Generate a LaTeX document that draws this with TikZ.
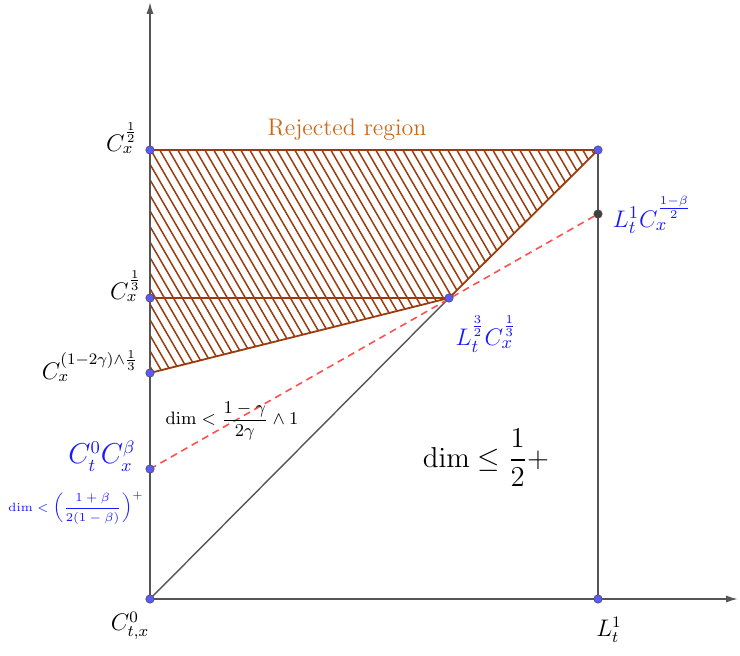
\documentclass[tikz,border=0pt]{standalone}
\usepackage{amsmath,amssymb}
\usepackage{xcolor}
\usepackage{tikz}
\usetikzlibrary{arrows.meta, positioning}

\definecolor{axisgray}{RGB}{85,85,85}
\definecolor{rejbrown}{RGB}{155,60,15}
\definecolor{rejorange}{RGB}{205,105,20}
\definecolor{dotblue}{RGB}{90,90,255}
\definecolor{labblue}{RGB}{25,25,255}
\definecolor{dashred}{RGB}{255,80,80}

\tikzset{
  pt/.style={circle, draw=black!70, fill=dotblue, inner sep=0pt, minimum size=4.2pt, line width=0.3pt},
  blackpt/.style={circle, draw=black!70, fill=black!75, inner sep=0pt, minimum size=4.2pt, line width=0.3pt},
  lab/.style={inner sep=0.5pt},
  axis/.style={draw=axisgray, line width=0.9pt},
  hatch/.style={draw=rejbrown, line width=0.75pt},
  border/.style={draw=rejbrown, line width=0.9pt},
}

\begin{document}
\begin{tikzpicture}[x=0.5pt, y=-0.5pt]
\useasboundingbox (0,0) rectangle (740,656);

% points
\coordinate (o) at (150,599);
\coordinate (chalf) at (150,150);
\coordinate (cthird) at (150,298);
\coordinate (cgam) at (150,373);
\coordinate (cbeta) at (150,469);
\coordinate (mid) at (449,298);
\coordinate (topr) at (598,150);
\coordinate (lbeta) at (598,214);
\coordinate (lone) at (598,599);
\coordinate (xend) at (738,599);
\coordinate (yend) at (150,2);

% hatched region
\begin{scope}
\clip (chalf) -- (topr) -- (mid) -- (cgam) -- cycle;
\foreach \k in {0,...,70}
  \draw[hatch] (10+\k*9,140) -- ++(140,242);
\end{scope}
\draw[border] (chalf) -- (topr) -- (mid) -- (cgam);
\draw[border] (cthird) -- (mid);

% axes and lines
\draw[axis, -{Latex[length=6pt, width=3.6pt]}] (o) -- (yend);
\draw[axis, -{Latex[length=6pt, width=3.6pt]}] (o) -- (xend);
\draw[axis] (lone) -- (topr);
\draw[axis, line width=0.7pt] (o) -- (mid);
\draw[dashred, dashed, line width=0.8pt, dash pattern=on 3.5pt off 2.5pt] (cbeta) -- (lbeta);

% dots
\foreach \p in {o,chalf,cthird,cgam,cbeta,mid,topr,lone}
  \node[pt] (\p dot) at (\p) {};
\node[blackpt] (lbetadot) at (lbeta) {};

% labels
\node[lab] (lchalf) at (122,138) {\fontsize{12}{14}\selectfont $C_x^{\frac{1}{2}}$};
\node[lab] (lcthird) at (126,286) {\fontsize{12}{14}\selectfont $C_x^{\frac{1}{3}}$};
\node[lab] (lcgam) at (90,366) {\fontsize{12}{14}\selectfont $C_x^{(1-2\gamma)\wedge\frac{1}{3}}$};
\node[lab, text=labblue] (lcbeta) at (102,456) {\fontsize{13.5}{16}\selectfont $C_t^0C_x^{\beta}$};
\node[lab, text=labblue] (ldimbeta) at (76,508) {\fontsize{6.2}{7}\selectfont $\dim<\left(\dfrac{1+\beta}{2(1-\beta)}\right)^{+}$};
\node[lab] (lo) at (130,626) {\fontsize{11.5}{13}\selectfont $C_{t,x}^0$};
\node[lab] (llone) at (609,630) {\fontsize{11.5}{13}\selectfont $L_t^1$};
\node[lab, text=labblue] (llbeta) at (652,215) {\fontsize{12.5}{14}\selectfont $L_t^1C_x^{\frac{1-\beta}{2}}$};
\node[lab, text=labblue] (lmid) at (486,334) {\fontsize{13}{15}\selectfont $L_t^{\frac{3}{2}}C_x^{\frac{1}{3}}$};
\node[lab] (ldimgam) at (232,421) {\fontsize{9}{11}\selectfont $\dim<\dfrac{1-\gamma}{2\gamma}\wedge 1$};
\node[lab] (ldimhalf) at (486,458) {\fontsize{14.4}{17}\selectfont $\dim\leq\dfrac{1}{2}+$};
\node[lab, text=rejorange] (lrej) at (347,130) {\fontsize{12}{14}\selectfont Rejected region};
\end{tikzpicture}
\end{document}
